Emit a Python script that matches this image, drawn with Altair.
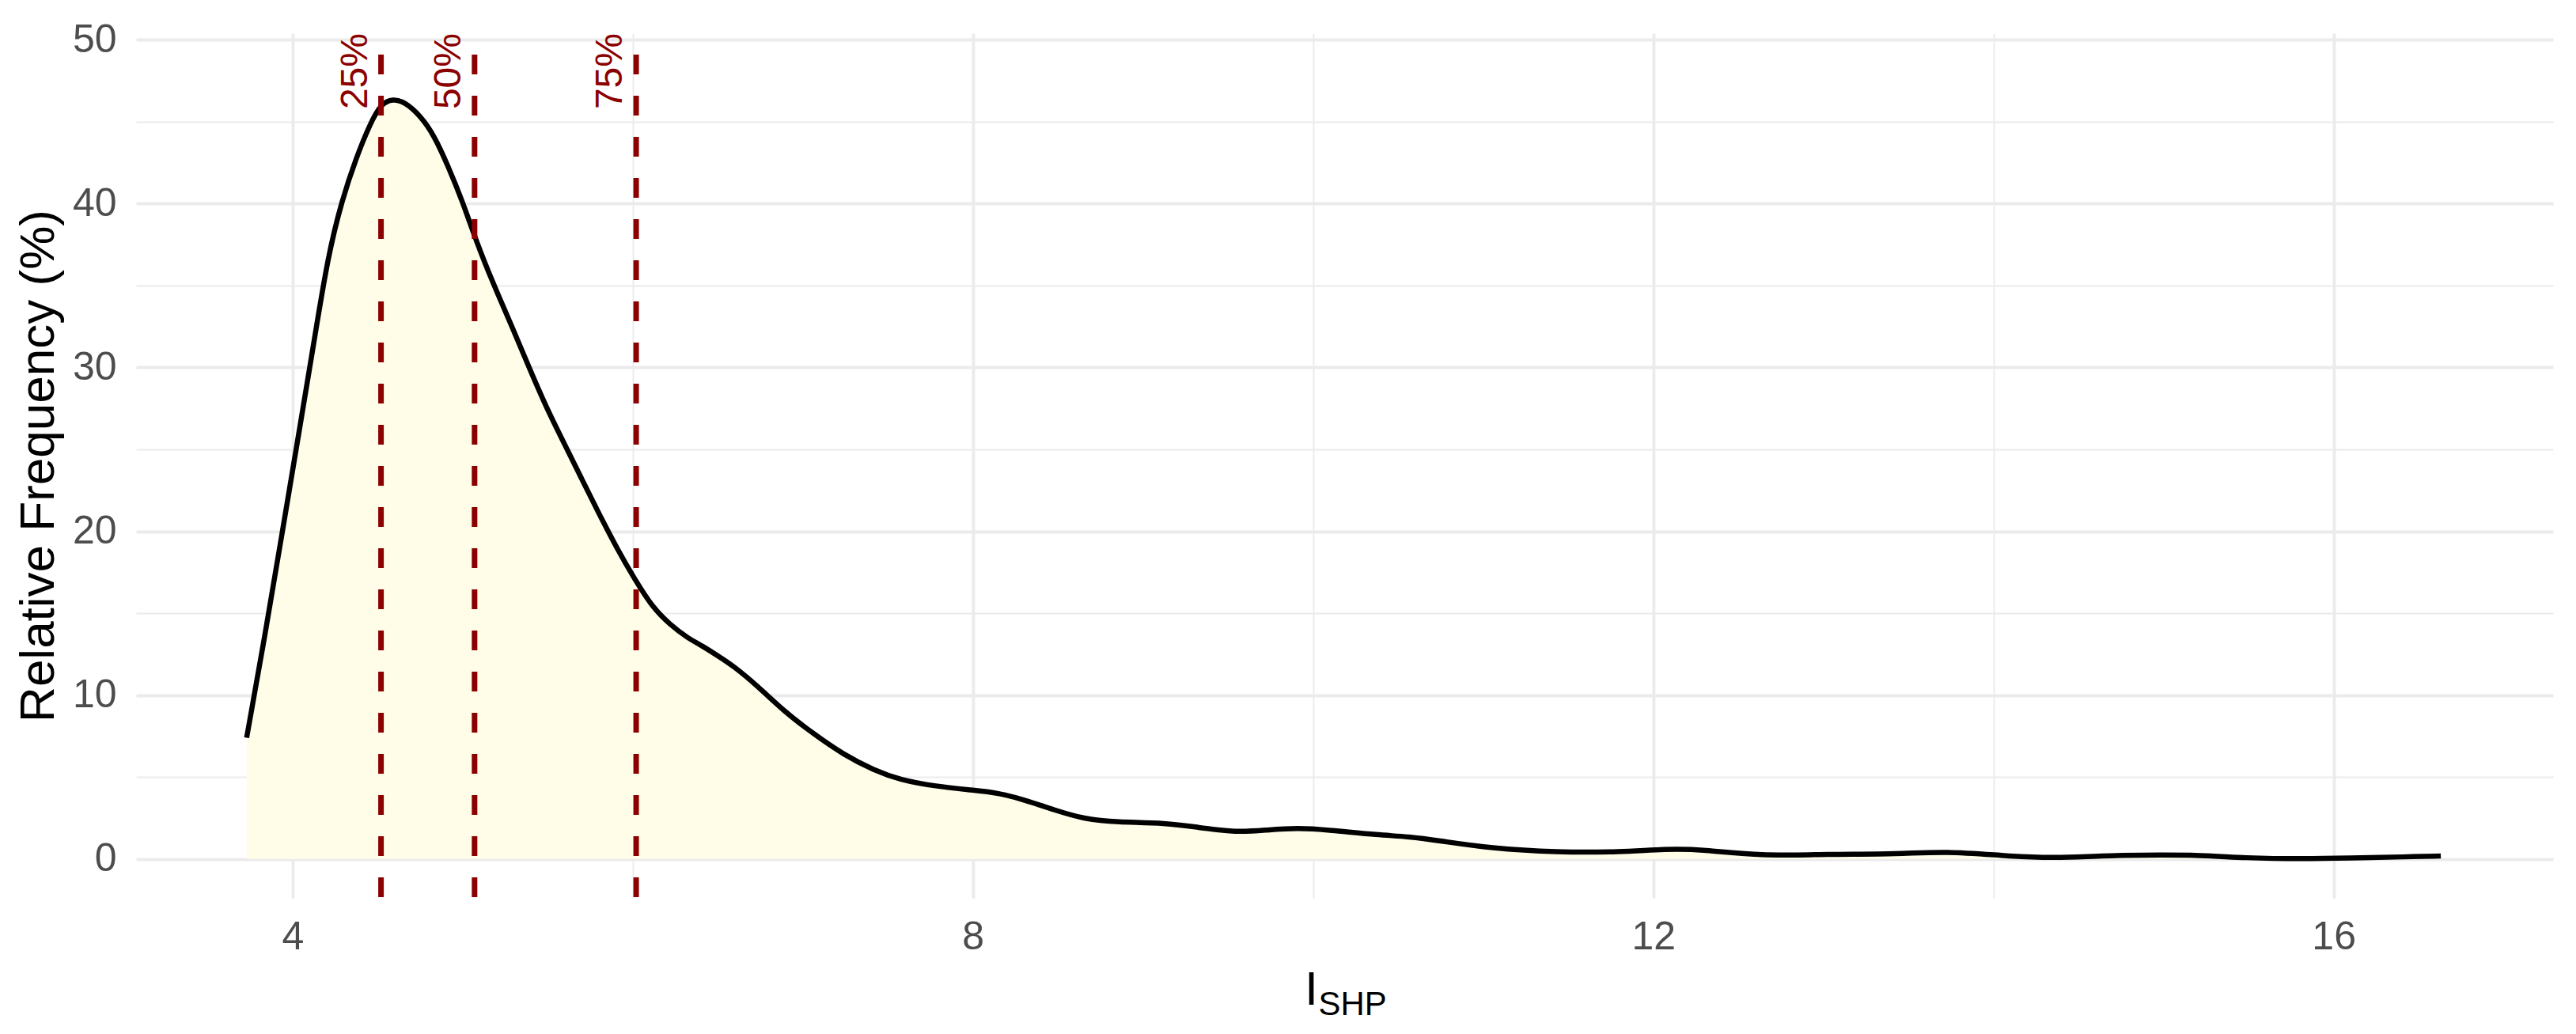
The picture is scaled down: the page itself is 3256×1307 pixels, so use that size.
import altair as alt
import pandas as pd

FONT = "Liberation Sans"

# density curve
x_vals = [3.73, 3.834, 3.938, 4.042, 4.125, 4.208, 4.29, 4.374, 4.457, 4.52, 4.59, 4.66,
          4.748, 4.831, 4.914, 4.997, 5.08, 5.18, 5.29, 5.39, 5.49, 5.60, 5.70, 5.80, 5.91,
          6.01, 6.12, 6.22, 6.32, 6.41, 6.50, 6.59, 6.74, 6.88, 7.06, 7.24, 7.42, 7.57, 7.78,
          8.00, 8.15, 8.30, 8.48, 8.66, 8.84, 9.14, 9.32, 9.55, 9.73, 9.91, 10.09, 10.39,
          10.56, 10.75, 11.04, 11.43, 11.81, 12.07, 12.29, 12.63, 13.02, 13.45, 13.71, 14.10,
          14.36, 14.75, 15.18, 15.48, 15.83, 16.09, 16.43, 16.63]
y_vals = [7.4, 13.4, 19.85, 26.3, 31.5, 36.8, 40.2, 42.8, 44.9, 46.1, 46.4, 46.2,
          45.4, 44.2, 42.3, 40.2, 37.7, 35.1, 32.5, 30.0, 27.6, 25.3, 23.2, 21.1, 18.9,
          17.1, 15.3, 14.3, 13.5, 13.0, 12.4, 11.8, 10.5, 9.1, 7.65, 6.36, 5.4, 4.83, 4.43,
          4.2, 4.03, 3.62, 2.98, 2.42, 2.25, 2.2, 1.93, 1.61, 1.77, 1.9, 1.77, 1.45,
          1.37, 1.1, 0.65, 0.4, 0.42, 0.61, 0.58, 0.18, 0.29, 0.29, 0.48, 0.16,
          0.05, 0.24, 0.26, 0.05, 0.0, 0.05, 0.13, 0.18]

# quartiles
quart_x = [4.52, 5.07, 6.02]
quart_lbl = ["25%", "50%", "75%"]

x_ticks = [4, 6, 8, 10, 12, 14, 16]
y_ticks = [0, 5, 10, 15, 20, 25, 30, 35, 40, 45, 50]
X_DOMAIN = [3.08, 17.29]
Y_DOMAIN = [-2.38, 50.4]

W, H = 3055, 1093

dens = pd.DataFrame({"x": x_vals, "y": y_vals})
qrule = pd.DataFrame({"x": quart_x})
qtext = pd.DataFrame({"x": quart_x, "y": [Y_DOMAIN[1]] * 3, "lbl": quart_lbl})
xc = (X_DOMAIN[0] + X_DOMAIN[1]) / 2
xtitle_main = pd.DataFrame({"x": [xc], "y": [Y_DOMAIN[0]], "lbl": ["I"]})
xtitle_sub = pd.DataFrame({"x": [xc], "y": [Y_DOMAIN[0]], "lbl": ["SHP"]})

xs = alt.Scale(domain=X_DOMAIN, nice=False, zero=False)
ys = alt.Scale(domain=Y_DOMAIN, nice=False, zero=False)

x_axis = alt.Axis(
    values=x_ticks,
    labelExpr="datum.value % 4 == 0 ? datum.label : ''",
    gridWidth={"condition": {"test": "datum.value % 4 == 0", "value": 3.8}, "value": 1.9},
)
y_axis = alt.Axis(
    values=y_ticks,
    labelExpr="datum.value % 10 == 0 ? datum.label : ''",
    gridWidth={"condition": {"test": "datum.value % 10 == 0", "value": 3.8}, "value": 1.9},
)

x_enc = alt.X("x:Q", scale=xs, axis=x_axis, title="")
y_enc = alt.Y("y:Q", scale=ys, axis=y_axis, title="Relative Frequency (%)")

area = alt.Chart(dens).mark_area(color="#FFFDE8", interpolate="basis").encode(
    x=x_enc, y=y_enc, y2=alt.datum(0)
)
line = alt.Chart(dens).mark_line(color="black", strokeWidth=6.5, interpolate="basis").encode(
    x=x_enc, y=y_enc
)
rules = alt.Chart(qrule).mark_rule(
    color="#8B0000", strokeWidth=7, strokeDash=[25, 27], strokeDashOffset=25
).encode(x=x_enc)
labels = alt.Chart(qtext).mark_text(
    angle=270, align="right", baseline="alphabetic", dy=-18, fontSize=48,
    color="#8B0000", font=FONT
).encode(x=x_enc, y=y_enc, text="lbl:N")

t_main = alt.Chart(xtitle_main).mark_text(
    align="right", baseline="alphabetic", dx=-33.5, dy=135, fontSize=60, color="black", font=FONT
).encode(x=x_enc, y=y_enc, text="lbl:N")
t_sub = alt.Chart(xtitle_sub).mark_text(
    align="left", baseline="alphabetic", dx=-33, dy=148, fontSize=42, color="black", font=FONT
).encode(x=x_enc, y=y_enc, text="lbl:N")

chart = (
    alt.layer(area, line, rules, labels, t_main, t_sub)
    .properties(
        width=W, height=H,
        autosize=alt.AutoSizeParams(type="none"),
        padding={"left": 164, "top": 34, "right": 20, "bottom": 160},
        background="white",
    )
    .configure_view(stroke=None)
    .configure_axis(
        grid=True, gridColor="#EBEBEB", domain=False, ticks=False,
        labelFont=FONT, labelFontSize=50, labelColor="#4D4D4D",
        labelOverlap=False, labelFlush=False,
        titleFont=FONT, titleFontWeight="normal", titleColor="black",
    )
    .configure_axisX(labelPadding=24)
    .configure_axisY(
        labelPadding=25, titleFontSize=62, titleAngle=270, titleX=-105, titleY=H / 2,
        titleBaseline="alphabetic", titleAlign="center",
    )
)

chart.save("out.html", embed_options={"renderer": "svg", "actions": False})
